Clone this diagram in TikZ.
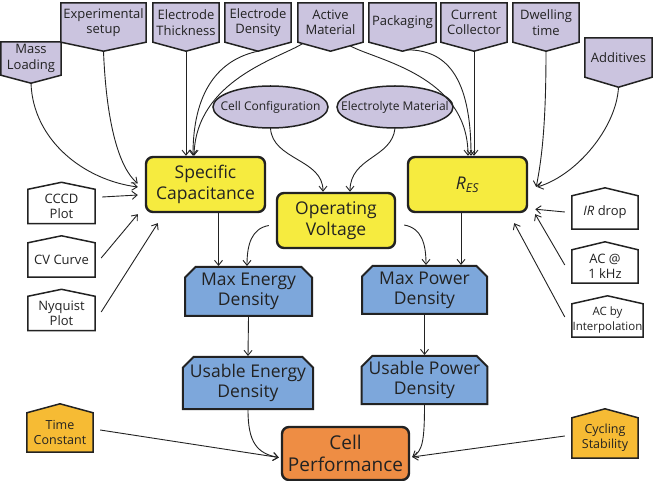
\documentclass[tikz,border=0pt]{standalone}
\usepackage{fontspec}
\setmainfont{Open Sans}
\usetikzlibrary{arrows.meta,shapes.geometric,shapes.misc,calc,backgrounds}

\definecolor{ink}{RGB}{34,34,34}
\definecolor{lav}{RGB}{203,196,223}
\definecolor{yel}{RGB}{246,235,63}
\definecolor{blu}{RGB}{125,167,219}
\definecolor{org}{RGB}{238,141,68}
\definecolor{gld}{RGB}{246,187,52}

\tikzset{
  tagline/.style={draw=ink, line width=1.5pt, line join=miter},
  tagtext/.style={rectangle, inner sep=0pt, align=center, text=ink,
    font=\fontsize{13}{15.5}\selectfont},
  smalltag/.style={tagtext, font=\fontsize{12.5}{15}\selectfont},
  ovaltext/.style={tagtext, font=\fontsize{12}{14}\selectfont},
  keybox/.style={rectangle, rounded corners=7pt, draw=ink, line width=2.4pt,
    fill=yel, inner sep=0pt, align=center, text=ink,
    font=\fontsize{17.5}{21}\selectfont},
  densbox/.style={chamfered rectangle, chamfered rectangle corners={north west,north east},
    chamfered rectangle xsep=7pt, draw=ink, line width=2pt, fill=blu,
    inner sep=0pt, align=center, text=ink, font=\fontsize{17.5}{20}\selectfont},
  arr/.style={draw=ink, line width=0.9pt, -{Straight Barb[length=5pt,width=8pt]}},
}

% five-sided label pointing downwards
\newcommand\mytagdown[3]{%
  \coordinate (#1-tip) at ($(#1.south)+(0,#2)$);
  \begin{scope}[on background layer]
    \filldraw[tagline, fill=#3] (#1.north west) -- (#1.north east) -- (#1.south east)
      -- (#1-tip) -- (#1.south west) -- cycle;
  \end{scope}}
% five-sided label with a roof
\newcommand\mytagup[3]{%
  \coordinate (#1-top) at ($(#1.north)+(0,-#2)$);
  \begin{scope}[on background layer]
    \filldraw[tagline, fill=#3] (#1.south west) -- (#1.north west) -- (#1-top)
      -- (#1.north east) -- (#1.south east) -- cycle;
  \end{scope}}
% oval inscribed in its node
\newcommand\myoval[3]{%
  \begin{scope}[on background layer]
    \filldraw[tagline, fill=lav] (#1.center) ellipse [x radius=#2pt, y radius=#3pt];
  \end{scope}}

\begin{document}
\begin{tikzpicture}[x=1pt, y=-1pt]
\useasboundingbox (0,0) rectangle (662,481);

% parameters along the top
\node[tagtext, minimum width=60pt, minimum height=33pt] (ml)   at (31,58.5)    {Mass\\Loading};
\node[tagtext, minimum width=85pt, minimum height=39pt] (exs)  at (103.5,22.5) {Experimental\\setup};
\node[tagtext, minimum width=66pt, minimum height=39pt] (eth)  at (186,22.5)   {Electrode\\Thickness};
\node[tagtext, minimum width=66pt, minimum height=39pt] (eden) at (258,22.5)   {Electrode\\Density};
\node[tagtext, minimum width=65pt, minimum height=39pt] (am)   at (330.5,22.5) {Active\\Material};
\node[tagtext, minimum width=67pt, minimum height=39pt] (pkg)  at (402.5,22.5) {Packaging};
\node[tagtext, minimum width=66pt, minimum height=39pt] (cc)   at (474,22.5)   {Current\\Collector};
\node[tagtext, minimum width=66pt, minimum height=39pt] (dw)   at (546,22.5)   {Dwelling\\time};
\node[tagtext, minimum width=67pt, minimum height=39pt] (add)  at (618.5,57.5) {Additives};
\mytagdown{ml}{8}{lav}
\mytagdown{exs}{9}{lav}
\mytagdown{eth}{9}{lav}
\mytagdown{eden}{9}{lav}
\mytagdown{am}{9}{lav}
\mytagdown{pkg}{9}{lav}
\mytagdown{cc}{9}{lav}
\mytagdown{dw}{9}{lav}
\mytagdown{add}{10}{lav}

% measurement methods
\node[tagtext, minimum width=67pt, minimum height=34pt] (cccd) at (61.5,206.5) {CCCD\\Plot};
\node[tagtext, minimum width=67pt, minimum height=34pt] (cv)   at (61.5,260)   {CV Curve};
\node[tagtext, minimum width=67pt, minimum height=34pt] (nyq)  at (61.5,313.5) {Nyquist\\Plot};
\node[tagtext, minimum width=66pt, minimum height=33pt] (ir)   at (605,212.5)  {\textit{IR} drop};
\node[tagtext, minimum width=66pt, minimum height=33pt] (ac1)  at (605,266.5)  {AC @\\1 kHz};
\node[tagtext, minimum width=71pt, minimum height=33pt,
      font=\fontsize{11.5}{15}\selectfont] (aci) at (607.5,320.5) {AC by\\Interpolation};
\mytagup{cccd}{7}{white}
\mytagup{cv}{7}{white}
\mytagup{nyq}{7}{white}
\mytagup{ir}{8}{white}
\mytagup{ac1}{8}{white}
\mytagup{aci}{8}{white}

% long-term factors
\node[smalltag, minimum width=66pt, minimum height=39pt] (tc) at (60,432.5) {Time\\Constant};
\node[smalltag, minimum width=66pt, minimum height=40pt] (cs) at (605,438)  {Cycling\\Stability};
\mytagup{tc}{9}{gld}
\mytagup{cs}{9}{gld}

% cell-level choices
\node[ovaltext, minimum width=115pt, minimum height=42pt] (cfg) at (270.5,107) {Cell Configuration};
\node[ovaltext, minimum width=116pt, minimum height=42pt] (elm) at (395,107)   {Electrolyte Material};
\myoval{cfg}{57.5}{21}
\myoval{elm}{58}{21}

% key quantities
\node[keybox, minimum width=119pt, minimum height=55pt] (sc)  at (205.5,184.5) {Specific\\Capacitance};
\node[keybox, minimum width=118pt, minimum height=55pt] (opv) at (336,220.5)   {Operating\\Voltage};
\node[keybox, minimum width=119pt, minimum height=55pt] (res) at (467.5,184.5) {\textit{R}\textsubscript{\textit{ES}}};

\node[densbox, minimum width=127pt, minimum height=49pt] (me) at (248.5,291.5) {Max Energy\\Density};
\node[densbox, minimum width=125pt, minimum height=48pt] (mp) at (424.5,290)   {Max Power\\Density};
\node[densbox, minimum width=126pt, minimum height=52pt] (ue) at (248,383)     {Usable Energy\\Density};
\node[densbox, minimum width=125pt, minimum height=48pt] (up) at (424.5,380)   {Usable Power\\Density};

\node[keybox, fill=org, minimum width=127pt, minimum height=53pt,
      font=\fontsize{19}{22}\selectfont] (cp) at (345.5,453.5) {Cell\\Performance};

% into specific capacitance
\draw[arr] (ml-tip) .. controls +(2,57) and +(-54,-7) .. ($(sc.west)+(-7,2.5)$);
\draw[arr] (exs-tip) .. controls +(3,75) and +(-18,-15) .. ($(sc.west)+(-7,-1)$);
\draw[arr] ($(cccd.east)+(7,-9.5)$) -- ($(sc.west)+(-7,10.5)$);
\draw[arr] ($(cv.east)+(6,-2)$) -- ($(sc.south west)+(-7,1)$);
\draw[arr] ($(nyq.east)+(6,-1.5)$) -- ($(sc.south west)+(13,10)$);
\draw[arr] (eth-tip) -- (eth-tip |- sc.north);
\draw[arr] (eden-tip) .. controls +(-33,7) and +(0,-72) .. ($(sc.north)+(-12.5,0)$);
\draw[arr] ($(am.south west)!0.15!(am-tip)$) .. controls (280,58) and (196,80) .. ($(sc.north)+(-11.5,0)$);

% into the equivalent series resistance
\draw[arr] ($(am-tip)!0.6!(am.south east)$) .. controls (375,60) and (468,75) .. ($(res.north)+(0.5,0)$);
\draw[arr] ($(pkg-tip)!0.15!(pkg.south east)$) .. controls (445,50) and (471,75) .. ($(res.north)+(3.5,0)$);
\draw[arr] (cc-tip) -- (cc-tip |- res.north);
\draw[arr] (dw-tip) .. controls +(0,70) and +(6,-30) .. ($(res.east)+(8,2.5)$);
\draw[arr] (add-tip) .. controls +(-2,40) and +(40,-12) .. ($(res.east)+(9,2.5)$);
\draw[arr] ($(ir.west)+(-7,-0.5)$) -- ($(res.south east)+(7,-4)$);
\draw[arr] ($(ac1.west)+(-7,-1.5)$) -- ($(res.south east)+(7,1)$);
\draw[arr] ($(aci.west)+(-7,-3.5)$) -- ($(res.south east)+(-14,10)$);

% into the operating voltage
\draw[arr] (cfg.south) .. controls +(2,32) and +(0,-33) .. ($(opv.north)+(-13,0)$);
\draw[arr] (elm.south) .. controls +(-3,30) and +(0,-35) .. ($(opv.north)+(14,0)$);

% towards the densities
\draw[arr] ($(opv.west)+(-7,5)$) .. controls +(-17,3) and +(0,-22) .. ($(me.north)+(-1.5,0)$);
\draw[arr] ($(opv.east)+(8,4.5)$) .. controls +(17,3) and +(0,-22) .. ($(mp.north)+(1.5,0)$);
\draw[arr] ($(sc.south)+(13,0)$) coordinate (scdown) -- (scdown |- me.north);
\draw[arr] ($(res.south)+(-6.5,0)$) coordinate (resdown) -- (resdown |- mp.north);
\draw[arr] (me.south) -- (ue.north);
\draw[arr] (mp.south) -- (up.north);

% into the cell performance
\draw[arr] (ue.south) .. controls +(0,32) and +(-22,-4) .. ($(cp.west)+(-2,4)$);
\draw[arr] (up.south) .. controls +(0,37) and +(10,-6) .. ($(cp.east)+(2,3.5)$);
\draw[arr] ($(tc.east)+(7,-2.5)$) -- ($(cp.west)+(-2,4)$);
\draw[arr] ($(cs.west)+(-7,-2)$) -- ($(cp.east)+(2,3.5)$);
\end{tikzpicture}
\end{document}
